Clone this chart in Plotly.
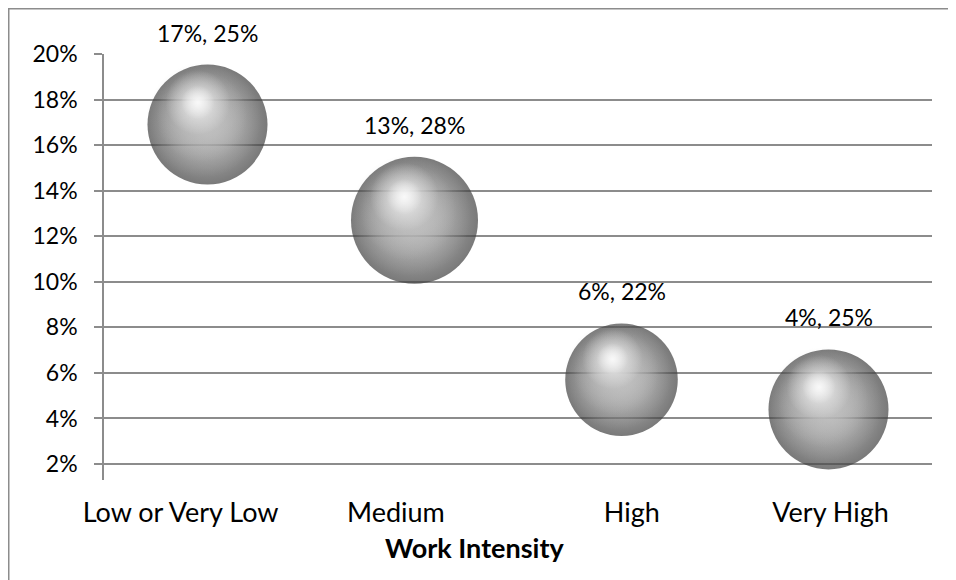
import math
import plotly.graph_objects as go

categories = ["Low or Very Low", "Medium", "High", "Very High"]
category_pos = [1, 2, 3, 4]                   # bubble x positions
label_pos = [0.87, 1.91, 3.05, 4.01]          # category label positions
share_pct = [16.9, 12.7, 5.7, 4.4]            # y values (%)
size_pct = [25, 28, 22, 25]                   # bubble sizes (%)
y_ticks = [2, 4, 6, 8, 10, 12, 14, 16, 18, 20]

# page body has an 8px margin, so the figure is 8px smaller than the window
W, H = 948, 572
ML, MR, MT, MB = 96, 24, 46, 100
Y_MIN, Y_MAX = 1.3, 20.0
FONT = "Lato"

plot_w = W - ML - MR
plot_h = H - MT - MB
px_per_x = plot_w / 4.0
px_per_y = plot_h / ((Y_MAX - Y_MIN) / 100)

# bubble area proportional to size: 25% -> 120 px diameter
diam = [120 * math.sqrt(s / 25) for s in size_pct]
ys = [v / 100 for v in share_pct]

fig = go.Figure()


def layer(scale, dx, dy, edge, center):
    fig.add_trace(go.Scatter(
        x=[x + dx * d / 2 / px_per_x for x, d in zip(category_pos, diam)],
        y=[y - dy * d / 2 / px_per_y for y, d in zip(ys, diam)],
        mode="markers", cliponaxis=False,
        marker=dict(size=[scale * d for d in diam], sizemode="diameter",
                    color=edge,
                    gradient=dict(type="radial", color=center),
                    line=dict(width=0)),
        hoverinfo="skip", showlegend=False))


# base sphere: dark edge, gray centre
layer(1.0, 0.0, 0.0, "#404040", "#b0b0b0")
# light body, shifted up-left
layer(0.96, -0.07, -0.08, "rgba(184,184,184,0)", "rgba(184,184,184,1)")
layer(0.76, -0.09, -0.13, "rgba(194,194,194,0)", "rgba(194,194,194,1)")
# specular highlight
layer(0.54, -0.16, -0.37, "rgba(255,255,255,0)", "rgba(255,255,255,1)")
layer(0.28, -0.16, -0.37, "rgba(255,255,255,0)", "rgba(255,255,255,1)")

annotations = []
for x, y, v, s, d in zip(category_pos, ys, share_pct, size_pct, diam):
    annotations.append(dict(
        x=x, y=y, xref="x", yref="y",
        text=f"{round(v):d}%, {s}%", showarrow=False,
        yanchor="middle", xanchor="center",
        yshift=d / 2 + 32, font=dict(family=FONT, size=23, color="#000000")))

annotations.append(dict(
    x=(466 - ML) / plot_w, y=-(539 - (H - MB)) / plot_h,
    xref="paper", yref="paper", showarrow=False,
    xanchor="center", yanchor="middle",
    text="<b>Work Intensity</b>", font=dict(family=FONT, size=27, color="#000000")))

border = dict(type="rect", xref="paper", yref="paper",
              x0=(0.75 - ML) / plot_w, x1=(W + 10 - ML) / plot_w,
              y0=-(MB + 20) / plot_h, y1=(H - MB - 0.75) / plot_h,
              line=dict(color="#8c8c8c", width=1.5), layer="below")

fig.update_layout(
    width=W, height=H,
    margin=dict(l=ML, r=MR, t=MT, b=MB),
    paper_bgcolor="white", plot_bgcolor="white",
    font=dict(family=FONT, size=23, color="#000000"),
    showlegend=False,
    annotations=annotations,
    shapes=[border],
    xaxis=dict(range=[0.5, len(categories) + 0.5], tickvals=label_pos, ticktext=categories,
               showgrid=False, zeroline=False, showline=False,
               ticks="outside", ticklen=9, tickcolor="rgba(0,0,0,0)",
               tickfont=dict(family=FONT, size=27)),
    yaxis=dict(range=[Y_MIN / 100, Y_MAX / 100], tickvals=[t / 100 for t in y_ticks],
               tickformat=".0%", showgrid=True, gridcolor="#8c8c8c", gridwidth=1.5,
               zeroline=False, showline=True, linecolor="#8c8c8c", linewidth=1.5,
               ticks="outside", ticklen=8, tickcolor="#8c8c8c", tickwidth=1.5,
               ticklabelstandoff=12,
               tickfont=dict(family=FONT, size=23)),
)

fig.write_html("out.html")
